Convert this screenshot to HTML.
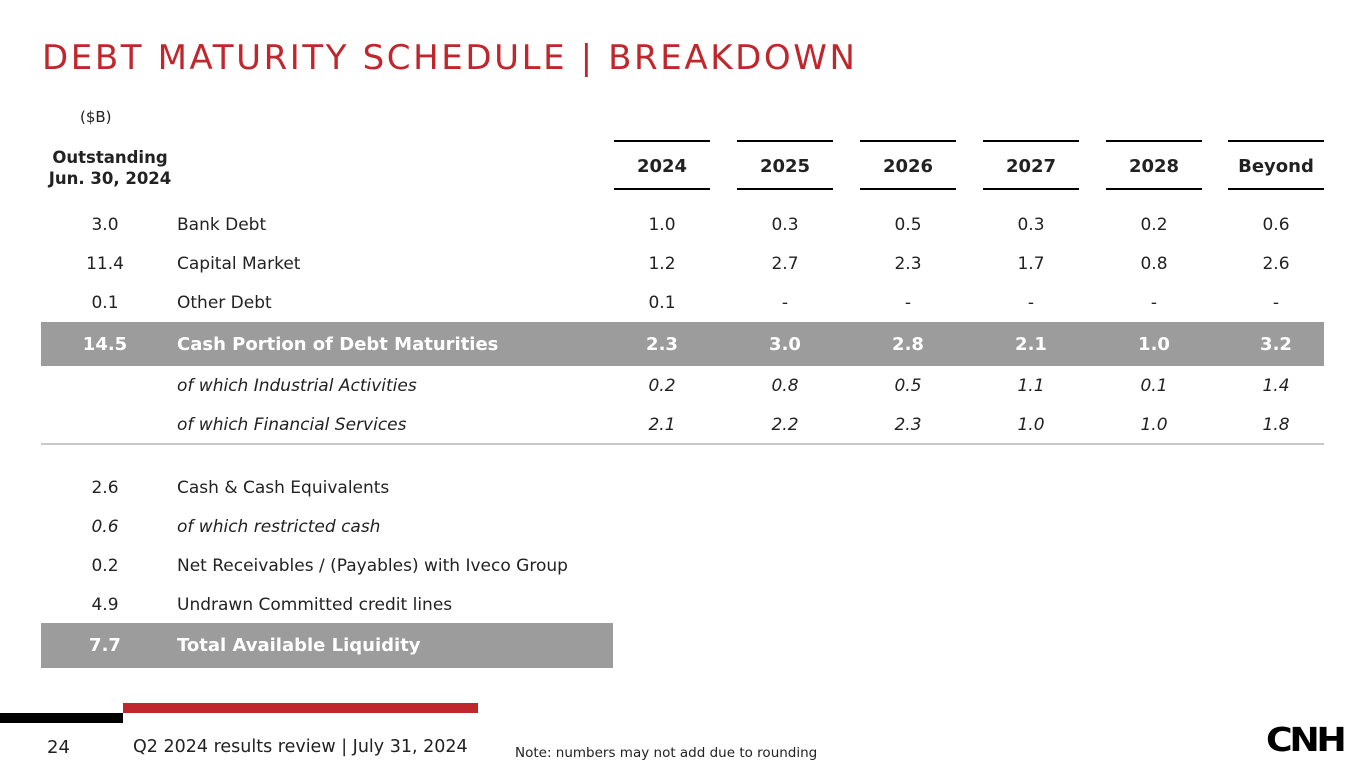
<!DOCTYPE html>
<html><head><meta charset="utf-8">
<style>
body{margin:0;width:1365px;height:768px;background:#fff;position:relative;overflow:hidden;font-family:"DejaVu Sans","Liberation Sans",sans-serif;color:#222}
.a{position:absolute;white-space:nowrap}
.t{font-size:17px;line-height:20px}
.c{text-align:center;transform:translateX(-50%)}
.b{font-weight:bold;font-size:18px}
.i{font-style:italic}
.w{color:#fff}
</style></head><body>
<div class="a" style="left:42px;top:38px;font-size:34px;color:#c0272d;letter-spacing:2.6px;font-family:'DejaVu Sans',sans-serif">DEBT MATURITY SCHEDULE | BREAKDOWN</div>
<div class="a t" style="left:80px;top:107px;font-size:15px">($B)</div>
<div class="a b c" style="left:110px;top:147px;font-size:16.5px;line-height:21px;text-align:center">Outstanding<br>Jun. 30, 2024</div>
<div class="a" style="left:41px;top:322px;width:1283px;height:44px;background:#9c9c9c"></div>
<div class="a" style="left:41px;top:443px;width:1283px;height:2px;background:#c8c8c8"></div>
<div class="a" style="left:41px;top:623px;width:572px;height:45px;background:#9c9c9c"></div>
<div id="tbl"></div>
<div class="a" style="left:0;top:713px;width:123px;height:10px;background:#000"></div>
<div class="a" style="left:123px;top:703px;width:355px;height:10px;background:#c0272d"></div>
<div class="a" style="left:47px;top:737px;font-size:18px">24</div>
<div class="a" style="left:133px;top:737px;font-size:17.5px">Q2 2024 results review | July 31, 2024</div>
<div class="a" style="left:515px;top:745px;font-size:13.5px">Note: numbers may not add due to rounding</div>
<div class="a" style="left:1266px;top:720px;font-size:33px;font-weight:900;font-family:'DejaVu Sans',sans-serif;letter-spacing:-3px;transform:scaleX(1.1);transform-origin:left;color:#000">CNH</div>
<script>
const years=["2024","2025","2026","2027","2028","Beyond"];
const outstanding=["3.0","11.4","0.1","14.5","","","2.6","0.6","0.2","4.9","7.7"];
const labels=["Bank Debt","Capital Market","Other Debt","Cash Portion of Debt Maturities","of which Industrial Activities","of which Financial Services","Cash & Cash Equivalents","of which restricted cash","Net Receivables / (Payables) with Iveco Group","Undrawn Committed credit lines","Total Available Liquidity"];
const bankDebt=["1.0","0.3","0.5","0.3","0.2","0.6"];
const capitalMarket=["1.2","2.7","2.3","1.7","0.8","2.6"];
const otherDebt=["0.1","-","-","-","-","-"];
const cashPortion=["2.3","3.0","2.8","2.1","1.0","3.2"];
const industrial=["0.2","0.8","0.5","1.1","0.1","1.4"];
const financial=["2.1","2.2","2.3","1.0","1.0","1.8"];
const rowVals=[bankDebt,capitalMarket,otherDebt,cashPortion,industrial,financial];
const rowY=[225,264,303,345,386,425,488,527,566,605,646];
const styles=["","","","bw","i","i","","i","","","bw"];
const colX=[662,785,908,1031,1154,1276];
const T=document.getElementById('tbl');
function mk(cls,x,y,txt){const d=document.createElement('div');d.className='a t '+cls;d.style.left=x+'px';d.style.top=(y-10)+'px';d.textContent=txt;T.appendChild(d);return d;}
years.forEach((y,i)=>{
 const h=mk('b c',colX[i],167,y);
 
 
 [141,189].forEach(ly=>{const l=document.createElement('div');l.className='a';l.style.cssText='left:'+(colX[i]-48)+'px;top:'+(ly-1)+'px;width:96px;height:2px;background:#000';
 
 
 T.appendChild(l);});
});
labels.forEach((lb,r)=>{
 const s=styles[r]==='bw'?'b w':styles[r];
 const sI=(r===7)?'i':s;
 if(outstanding[r]!==''){const o=mk('c '+sI,105,rowY[r],outstanding[r]);
 
 }
 const l=mk(s,177,rowY[r],lb);
 
 
 if(r<rowVals.length){rowVals[r].forEach((v,c)=>{const d=mk('c '+s,colX[c],rowY[r],v);
 
 });}
});
</script>
</body></html>
